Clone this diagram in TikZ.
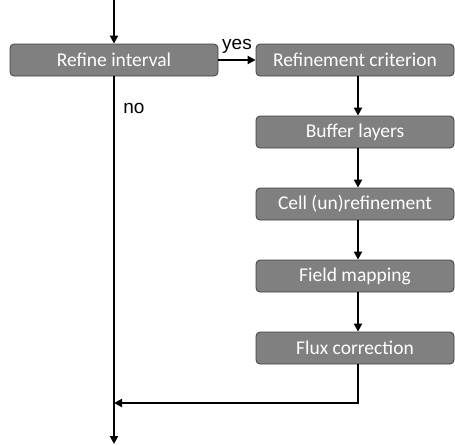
\documentclass[tikz,border=0pt]{standalone}
\usepackage{fontspec}
\setmainfont{Carlito}
\newfontfamily\labelfont{Liberation Sans}
\usetikzlibrary{arrows.meta}
\tikzset{
  procbox/.style={draw=black!75, line width=0.8pt, fill=black!50, rounded corners=4pt,
    minimum height=32pt, text=white, font=\fontsize{19.5}{22}\selectfont, inner sep=0pt, anchor=center},
  flow/.style={line width=2.6pt, -{Triangle[length=8pt,width=8pt]}},
  lbl/.style={font=\labelfont\fontsize{19}{22}\selectfont}
}
\begin{document}
\begin{tikzpicture}[x=1pt,y=-1pt]
\useasboundingbox (0,0) rectangle (455,445);
\node[procbox, minimum width=208pt] (ri) at (114,60) {Refine interval};
\node[procbox, minimum width=198pt] (rc) at (355,60) {Refinement criterion};
\node[procbox, minimum width=198pt] (bl) at (355,132) {Buffer layers};
\node[procbox, minimum width=198pt] (cu) at (355,204) {Cell (un)refinement};
\node[procbox, minimum width=198pt] (fm) at (355,276) {Field mapping};
\node[procbox, minimum width=198pt] (fc) at (355,348) {Flux correction};
\coordinate (top) at (114,0);
\coordinate (bot) at (114,444);
\coordinate (ret) at (358,403);
\coordinate (join) at (114,403);
\draw[flow] (top) -- (ri.north);
\draw[flow] (ri.east) -- (rc.west);
\node[lbl] (yes) at (237,46) {yes};
\draw[flow] (rc.south -| 358,0) -- (bl.north -| 358,0);
\draw[flow] (bl.south -| 358,0) -- (cu.north -| 358,0);
\draw[flow] (cu.south -| 358,0) -- (fm.north -| 358,0);
\draw[flow] (fm.south -| 358,0) -- (fc.north -| 358,0);
\draw[flow] (ri.south) -- (bot);
\node[lbl] (no) at (134,108) {no};
\draw[flow] (fc.south -| ret) -- (ret) -- (join);
\end{tikzpicture}
\end{document}
